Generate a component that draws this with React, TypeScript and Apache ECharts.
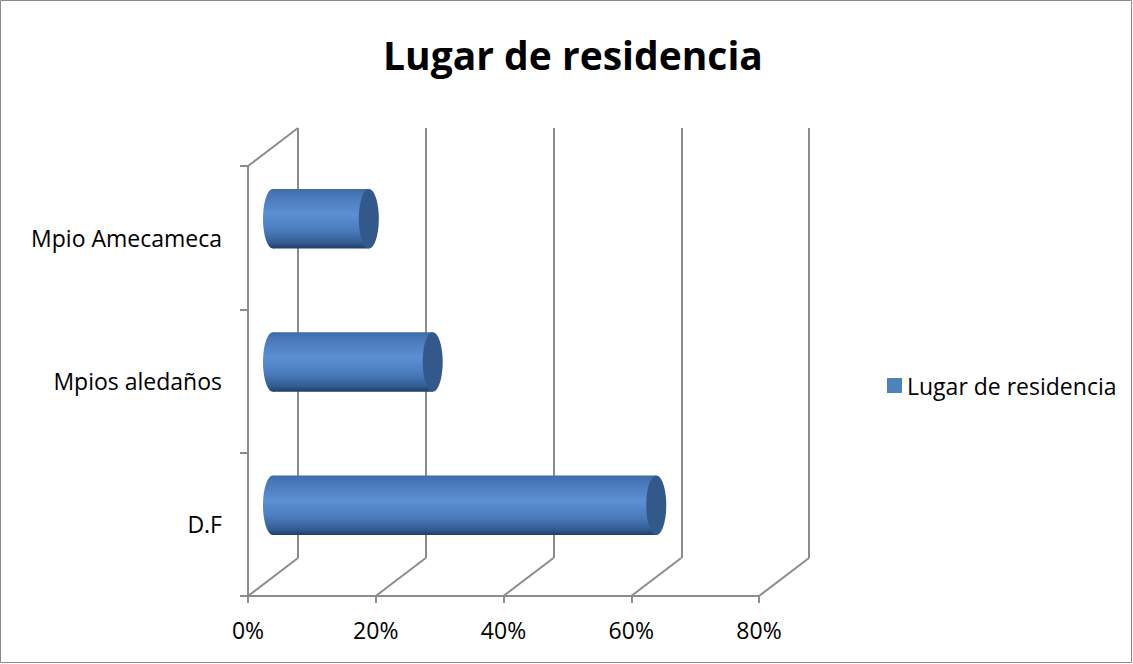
import React, { useEffect, useRef } from "react";
import * as echarts from "echarts";

const categories = ["D.F", "Mpios aledaños", "Mpio Amecameca"];
const values = [60, 25, 15];
const xTicks = [0, 20, 40, 60, 80];
const seriesName = "Lugar de residencia";
const titleText = "Lugar de residencia";

const DEPTH = { dx: 50, dy: -38 };
const FONT = "'Open Sans', 'Noto Sans', sans-serif";
const GRID_COLOR = "#8c8c8c";

export default function App() {
  const ref = useRef<HTMLDivElement>(null);
  useEffect(() => {
    document.body.style.margin = "0";
    const chart = echarts.init(ref.current!, null, { renderer: "svg" });

    const barData = values.map((v, i) => [v, i]);
    // floor diagonals at each tick + one at top-left corner
    const diagData = xTicks.map((t) => [t, 0]).concat([[0, 1]]);

    const option: any = {
      animation: false,
      backgroundColor: "#ffffff",
      textStyle: { fontFamily: FONT },
      title: {
        text: titleText,
        left: 378,
        top: 30,
        textStyle: { fontFamily: FONT, fontSize: 39, fontWeight: "bold", color: "#000" },
      },
      legend: {
        data: [seriesName],
        left: 882,
        top: 369,
        icon: "rect",
        itemWidth: 15,
        itemHeight: 15,
        textStyle: { fontFamily: FONT, fontSize: 23, color: "#000" },
      },
      grid: [
        { left: 248, top: 166, width: 511, height: 430 },
        { left: 298, top: 128, width: 511, height: 430 },
      ],
      xAxis: [
        {
          type: "value",
          gridIndex: 0,
          min: 0,
          max: 80,
          interval: 20,
          axisLine: { show: true, lineStyle: { color: GRID_COLOR, width: 2 } },
          axisTick: { show: true, length: 7, lineStyle: { color: GRID_COLOR, width: 2 } },
          splitLine: { show: false },
          axisLabel: {
            formatter: "{value}%",
            margin: 22,
            fontFamily: FONT,
            fontSize: 23,
            color: "#000",
          },
        },
        {
          type: "value",
          gridIndex: 1,
          min: 0,
          max: 80,
          interval: 20,
          axisLine: { show: false },
          axisTick: { show: false },
          axisLabel: { show: false },
          splitLine: { show: true, lineStyle: { color: GRID_COLOR, width: 2 } },
        },
      ],
      yAxis: [
        {
          type: "category",
          gridIndex: 0,
          data: categories,
          boundaryGap: true,
          axisLine: { show: true, lineStyle: { color: GRID_COLOR, width: 2 } },
          axisTick: { show: true, length: 8, lineStyle: { color: GRID_COLOR, width: 2 } },
          axisLabel: { margin: 26, fontFamily: FONT, fontSize: 23, color: "#000" },
        },
        {
          type: "category",
          gridIndex: 1,
          data: categories,
          show: false,
        },
      ],
      series: [
        {
          type: "custom",
          name: "diagonals",
          xAxisIndex: 0,
          yAxisIndex: 0,
          silent: true,
          data: diagData,
          renderItem: (params: any, api: any) => {
            const v = api.value(0);
            const pos = api.value(1);
            const cs = params.coordSys;
            const px = api.coord([v, 0])[0];
            const py = pos === 0 ? cs.y + cs.height : cs.y;
            return {
              type: "line",
              shape: { x1: px, y1: py, x2: px + DEPTH.dx, y2: py + DEPTH.dy },
              style: { stroke: GRID_COLOR, lineWidth: 2 },
            };
          },
        },
        {
          type: "custom",
          name: seriesName,
          xAxisIndex: 0,
          yAxisIndex: 0,
          itemStyle: { color: "#4f81bd" },
          data: barData,
          encode: { x: 0, y: 1 },
          renderItem: (params: any, api: any) => {
            const v = api.value(0);
            const cat = api.value(1);
            const s = api.coord([0, cat]);
            const e = api.coord([v, cat]);
            const band = api.size([0, 1])[1];
            const h = band * 0.415;
            const ry = h / 2;
            const rx = 10;
            const x0 = s[0] + DEPTH.dx / 2;
            const x1 = e[0] + DEPTH.dx / 2;
            const cy = s[1] + DEPTH.dy / 2;
            const grad = new echarts.graphic.LinearGradient(0, 0, 0, 1, [
              { offset: 0, color: "#3e69a6" },
              { offset: 0.08, color: "#4675b5" },
              { offset: 0.42, color: "#5b90d4" },
              { offset: 0.7, color: "#4a7bbd" },
              { offset: 0.9, color: "#355d93" },
              { offset: 1, color: "#223e68" },
            ]);
            return {
              type: "group",
              children: [
                {
                  type: "ellipse",
                  shape: { cx: x0, cy, rx, ry },
                  style: { fill: grad },
                },
                {
                  type: "rect",
                  shape: { x: x0, y: cy - ry, width: x1 - x0, height: h },
                  style: { fill: grad },
                },
                {
                  type: "ellipse",
                  shape: { cx: x1, cy, rx, ry },
                  style: { fill: "#33588a" },
                },
              ],
            };
          },
        },
      ],
      graphic: [
        {
          type: "rect",
          shape: { x: 0.5, y: 0.5, width: 1131, height: 662 },
          style: { fill: "none", stroke: "#8a8a8a", lineWidth: 1 },
          silent: true,
        },
      ],
    };
    chart.setOption(option);
    return () => chart.dispose();
  }, []);
  return <div ref={ref} style={{ width: 1133, height: 664 }} />;
}
